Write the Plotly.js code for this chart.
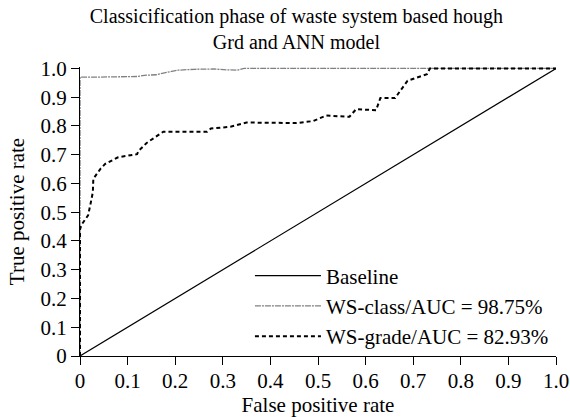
<!DOCTYPE html>
<html>
<head>
<meta charset="utf-8">
<script src="https://cdn.plot.ly/plotly-3.0.1.min.js"></script>
<style>html,body{margin:0;padding:0;background:#fff;}#chart{width:570px;height:417px;}</style>
</head>
<body>
<div id="chart"></div>
<script>
// Baseline (chance line)
const baseX = [0, 1];
const baseY = [0, 1];

// WS-class ROC curve
const classX = [0, 0, 0.04, 0.08, 0.12, 0.135, 0.16, 0.175, 0.206, 0.24, 0.28, 0.31, 0.33, 0.345, 1.0];
const classY = [0, 0.970, 0.970, 0.971, 0.972, 0.976, 0.978, 0.984, 0.994, 0.997, 0.998, 0.995, 0.994, 1.0, 1.0];

// WS-grade ROC curve
const gradeX = [0, 0, 0.003, 0.017, 0.023, 0.027, 0.028, 0.033, 0.043, 0.053, 0.08, 0.12, 0.123, 0.14, 0.16, 0.17, 0.175, 0.267, 0.275, 0.316, 0.344, 0.35, 0.455, 0.49, 0.517, 0.566, 0.58, 0.622, 0.631, 0.662, 0.688, 0.709, 0.729, 0.735, 1.0];
const gradeY = [0, 0.44, 0.456, 0.489, 0.536, 0.57, 0.616, 0.628, 0.651, 0.668, 0.691, 0.702, 0.713, 0.741, 0.763, 0.777, 0.78, 0.78, 0.791, 0.797, 0.808, 0.812, 0.81, 0.817, 0.836, 0.832, 0.858, 0.855, 0.897, 0.897, 0.957, 0.968, 0.98, 1.0, 1.0];

const names = ['Baseline', 'WS-class/AUC = 98.75%', 'WS-grade/AUC = 82.93%'];
const tickVals = [0, 0.1, 0.2, 0.3, 0.4, 0.5, 0.6, 0.7, 0.8, 0.9, 1.0];
const xTickText = ['0', '0.1', '0.2', '0.3', '0.4', '0.5', '0.6', '0.7', '0.8', '0.9', '1.0'];
const yTickText = ['0', '0.1', '0.2', '0.3', '0.4', '0.5', '0.6', '0.7', '0.8', '0.9', '1.0'];

const FONT = 'Liberation Serif, Times New Roman, serif';

const traces = [
  {x: baseX, y: baseY, name: names[0], mode: 'lines',
   line: {color: '#000', width: 1.2}},
  {x: classX, y: classY, name: names[1], mode: 'lines',
   line: {color: '#808080', width: 1.3, dash: '6px,1px,2px,1px'}},
  {x: gradeX, y: gradeY, name: names[2], mode: 'lines',
   line: {color: '#000', width: 2, dash: '4px,3px'}}
];

const axisCommon = {
  showgrid: false, zeroline: false, showline: true, linecolor: '#000', linewidth: 1,
  ticks: 'outside', ticklen: 8, tickwidth: 1, tickcolor: '#000',
  tickfont: {family: FONT, size: 21, color: '#000'},
  tickvals: tickVals
};

const layout = {
  width: 570, height: 417,
  margin: {l: 80, r: 14, t: 67, b: 61},
  paper_bgcolor: '#fff', plot_bgcolor: '#fff',
  font: {family: FONT, color: '#000'},
  title: {
    text: 'Classicification phase of waste system based hough<br>Grd and ANN model',
    font: {family: FONT, size: 20, color: '#000'},
    x: 0.52, xanchor: 'center', y: 0.945, yanchor: 'top'
  },
  xaxis: Object.assign({}, axisCommon, {
    range: [0, 1], ticktext: xTickText, ticklabelstandoff: -2,
    title: {text: 'False positive rate', font: {family: FONT, size: 21, color: '#000'}, standoff: 0}
  }),
  yaxis: Object.assign({}, axisCommon, {
    range: [0, 1.005], ticktext: yTickText,
    title: {text: 'True positive rate', font: {family: FONT, size: 21, color: '#000'}, standoff: 10}
  }),
  showlegend: true,
  legend: {
    x: 0.357, xanchor: 'left', y: 0.348, yanchor: 'top',
    bgcolor: 'rgba(0,0,0,0)', borderwidth: 0,
    font: {family: FONT, size: 21, color: '#000'},
    itemwidth: 66, tracegroupgap: 0
  }
};

Plotly.newPlot('chart', traces, layout, {displayModeBar: false, staticPlot: true});
</script>
</body>
</html>
